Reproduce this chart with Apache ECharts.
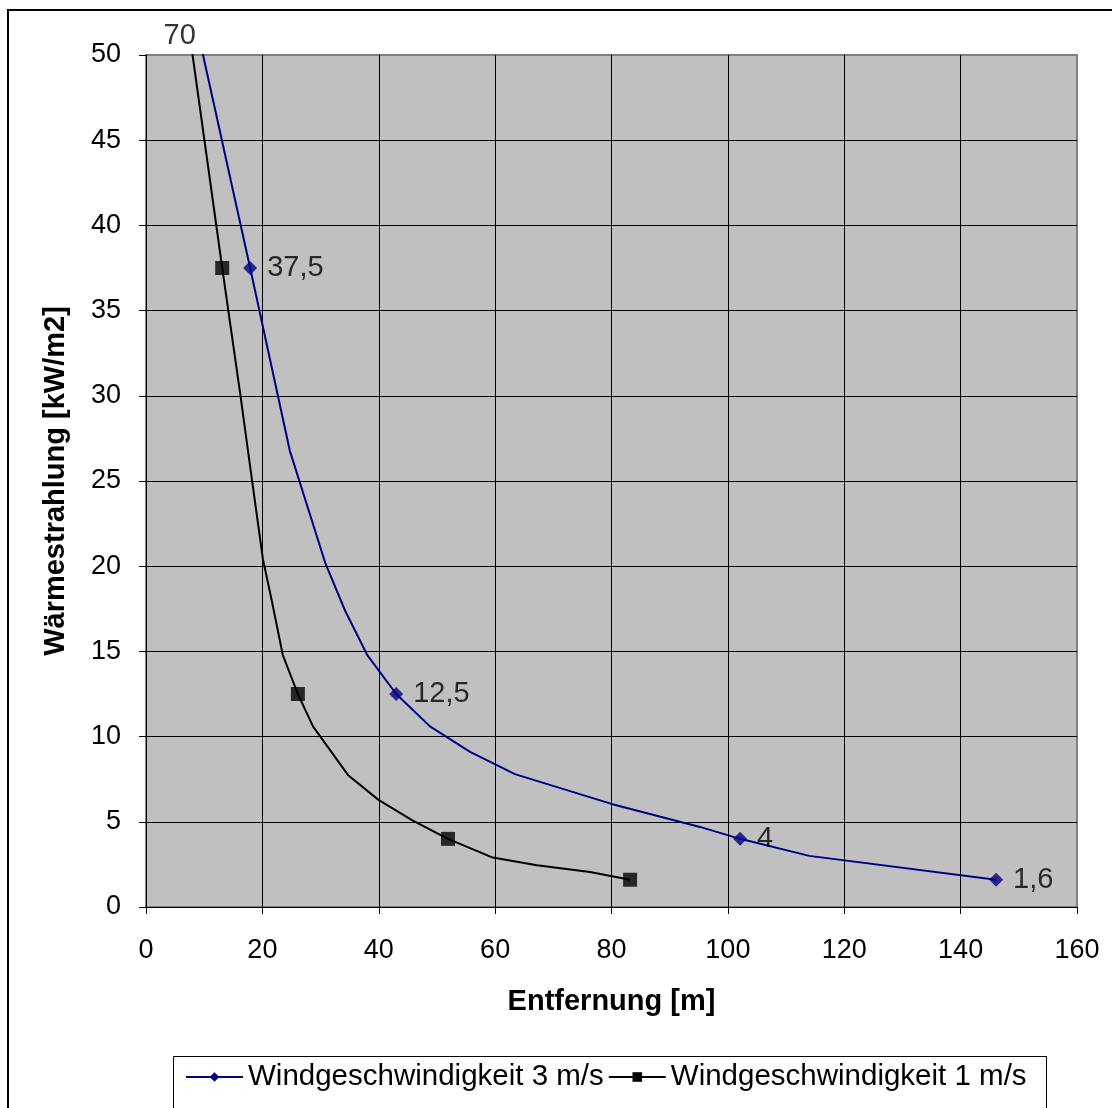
<!DOCTYPE html>
<html>
<head>
<meta charset="utf-8">
<script src="https://cdn.jsdelivr.net/npm/echarts@6/dist/echarts.min.js"></script>
<style>
  html, body { margin: 0; padding: 0; background: #ffffff; }
  #chart { width: 1112px; height: 1108px; }
</style>
</head>
<body>
<div id="chart"></div>
<script>
// Series names
const seriesNames = ['Windgeschwindigkeit 3 m/s', 'Windgeschwindigkeit 1 m/s'];

// Computed radiation curves: distance [m] and radiation [kW/m2]
const curve3X = [5.8, 9.8, 17.9, 24.7, 30.8, 34.2, 38, 43, 48.8, 55.7, 63.4, 80, 95.2, 102.1, 114, 146.1];
const curve3Y = [70, 50, 37.5, 26.8, 20.2, 17.4, 14.8, 12.5, 10.6, 9.1, 7.8, 6.05, 4.7, 4, 3, 1.6];
const curve1X = [4.3, 8, 13.1, 16.2, 18.2, 20.1, 21.6, 23.5, 26.1, 28.7, 34.7, 39.9, 45.7, 51.9, 59.6, 67.2, 76.3, 83.2];
const curve1Y = [70, 50, 37.5, 30.1, 25.1, 20.4, 18, 14.8, 12.5, 10.6, 7.75, 6.3, 5.1, 4, 2.9, 2.45, 2.05, 1.6];

// Threshold points marked on the curves
const points3X = [5.8, 17.9, 43, 102.1, 146.1];
const points3Y = [70, 37.5, 12.5, 4, 1.6];
const points1X = [4.3, 13.1, 26.1, 51.9, 83.2];
const points1Y = [70, 37.5, 12.5, 4, 1.6];

// Axis ranges
const xRange = { min: 0, max: 160, step: 20 };
const yRange = { min: 0, max: 50, step: 5 };

const FONT = '"Liberation Sans", Arial, sans-serif';
const BLUE = '#000080';
const BLACK = '#000000';

const zip = (xs, ys) => xs.map((x, i) => [x, ys[i]]);
const decimal = v => String(v).replace('.', ',');

// values above the axis maximum get their label pinned to the top edge
const pinnedLabels = points3X
  .map((x, i) => [x, points3Y[i]])
  .filter(p => p[1] > yRange.max)
  .map(p => [p[0], yRange.max, p[1]]);

const chart = echarts.init(document.getElementById('chart'), null, { renderer: 'canvas' });

chart.setOption({
  animation: false,
  backgroundColor: '#ffffff',
  textStyle: { fontFamily: FONT },
  grid: {
    left: 146, top: 55, width: 931, height: 852,
    show: true, backgroundColor: '#C0C0C0', borderColor: '#808080', borderWidth: 2
  },
  xAxis: {
    type: 'value', min: xRange.min, max: xRange.max, interval: xRange.step,
    name: 'Entfernung [m]', nameLocation: 'middle', nameGap: 80,
    nameTextStyle: { fontSize: 29, fontWeight: 'bold', color: BLACK, fontFamily: FONT },
    axisLine: { show: true, lineStyle: { color: BLACK, width: 1 } },
    axisTick: { show: true, length: 7, lineStyle: { color: BLACK } },
    axisLabel: { fontSize: 27, color: BLACK, margin: 30, fontFamily: FONT },
    splitLine: { show: true, showMaxLine: false, lineStyle: { color: BLACK, width: 1 } }
  },
  yAxis: {
    type: 'value', min: yRange.min, max: yRange.max, interval: yRange.step,
    name: 'Wärmestrahlung [kW/m2]', nameLocation: 'middle', nameGap: 76, nameRotate: 90,
    nameTextStyle: { fontSize: 29, fontWeight: 'bold', color: BLACK, fontFamily: FONT },
    axisLine: { show: true, lineStyle: { color: BLACK, width: 1 } },
    axisTick: { show: true, length: 7, lineStyle: { color: BLACK } },
    axisLabel: { fontSize: 27, color: BLACK, margin: 25, fontFamily: FONT },
    splitLine: { show: true, showMaxLine: false, lineStyle: { color: BLACK, width: 1 } }
  },
  legend: {
    data: seriesNames,
    left: 185, top: 1062, padding: 0,
    itemWidth: 57, itemHeight: 12, itemGap: 4,
    textStyle: { fontSize: 29.5, color: BLACK, fontFamily: FONT }
  },
  graphic: [
    { type: 'rect', z: -1, silent: true,
      shape: { x: 8, y: 10, width: 1200, height: 1200 },
      style: { fill: null, stroke: BLACK, lineWidth: 2 } },
    { type: 'rect', z: -1, silent: true,
      shape: { x: 173.5, y: 1056.5, width: 873, height: 120 },
      style: { fill: null, stroke: BLACK, lineWidth: 1 } }
  ],
  series: [
    {
      name: seriesNames[0], type: 'line', data: zip(curve3X, curve3Y),
      symbol: 'diamond', showSymbol: false, clip: true, silent: true,
      lineStyle: { color: BLUE, width: 2 }, itemStyle: { color: BLUE }, z: 3
    },
    {
      name: seriesNames[1], type: 'line', data: zip(curve1X, curve1Y),
      symbol: 'rect', showSymbol: false, clip: true, silent: true,
      lineStyle: { color: BLACK, width: 2 }, itemStyle: { color: BLACK }, z: 3
    },
    {
      name: seriesNames[0], type: 'scatter', data: zip(points3X, points3Y),
      symbol: 'diamond', symbolSize: 14, clip: true, silent: true,
      itemStyle: { color: BLUE }, z: 4,
      label: {
        show: true, position: 'right', distance: 10,
        fontSize: 29, color: BLACK, fontFamily: FONT,
        formatter: p => decimal(p.value[1])
      }
    },
    {
      name: seriesNames[1], type: 'scatter', data: zip(points1X, points1Y),
      symbol: 'rect', symbolSize: 14, clip: true, silent: true,
      itemStyle: { color: BLACK }, z: 4
    },
    {
      type: 'scatter', data: pinnedLabels, symbol: 'circle', symbolSize: 1,
      clip: false, silent: true, itemStyle: { color: 'transparent' }, z: 5,
      label: {
        show: true, position: 'top', distance: 4,
        fontSize: 29, color: BLACK, fontFamily: FONT,
        formatter: p => decimal(p.value[2])
      }
    }
  ]
});
</script>
</body>
</html>
